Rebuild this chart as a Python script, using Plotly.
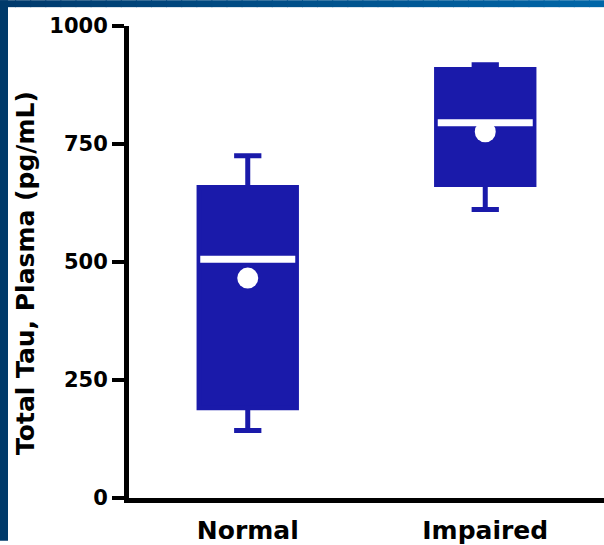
import plotly.graph_objects as go

# ---- data ----
categories = ["Normal", "Impaired"]
lower_whisker = [143, 611]
q1 = [191, 664]
median = [506, 795]
q3 = [658, 908]
upper_whisker = [725, 918]
mean = [466, 776]
y_ticks = [0, 250, 500, 750, 1000]
y_title = "Total Tau, Plasma (pg/mL)"

# ---- style ----
BOX_COLOR = "#1a1aaa"
FONT = "DejaVu Sans"
BOX_W = 0.41
MED_HALF = 0.2
W, H = 604, 545
ML, MR, MT, MB = 129, 0, 26, 43

pos = list(range(len(categories)))

fig = go.Figure()
fig.add_trace(go.Box(
    x=pos, q1=q1, median=median, q3=q3,
    lowerfence=lower_whisker, upperfence=upper_whisker,
    width=BOX_W, whiskerwidth=0.28,
    fillcolor=BOX_COLOR, line=dict(color=BOX_COLOR, width=5),
    boxpoints=False, hoverinfo="skip", showlegend=False,
))

# white median lines
mx, my = [], []
for p, m in zip(pos, median):
    mx += [p - MED_HALF, p + MED_HALF, None]
    my += [m, m, None]
fig.add_trace(go.Scatter(x=mx, y=my, mode="lines",
                         line=dict(color="white", width=7),
                         hoverinfo="skip", showlegend=False))

# white mean dots
fig.add_trace(go.Scatter(x=pos, y=mean, mode="markers",
                         marker=dict(color="white", size=21, line=dict(width=0)),
                         hoverinfo="skip", showlegend=False))

# ---- decorative blue frame (outside plot area) ----
pw = W - ML - MR
ph = H - MT - MB
def px_x(v):
    return (v - ML) / pw
def px_y(v):
    return (H - MB - v) / ph

shapes = []
n = 40
c0 = (0, 58, 108)
c1 = (0, 102, 168)
for i in range(n):
    t = i / (n - 1)
    col = tuple(round(a + (b - a) * t) for a, b in zip(c0, c1))
    shapes.append(dict(type="rect", xref="paper", yref="paper",
                       x0=px_x(W * i / n), x1=px_x(W * (i + 1) / n + 1),
                       y0=px_y(7), y1=px_y(0),
                       fillcolor="rgb(%d,%d,%d)" % col, line=dict(width=0),
                       layer="below"))
shapes.append(dict(type="rect", xref="paper", yref="paper",
                   x0=px_x(0), x1=px_x(8), y0=px_y(H), y1=px_y(0),
                   fillcolor="rgb(0,58,106)", line=dict(width=0), layer="below"))

fig.update_layout(
    width=W, height=H,
    margin=dict(l=ML, r=MR, t=MT, b=MB),
    paper_bgcolor="white", plot_bgcolor="white",
    shapes=shapes,
    showlegend=False,
    annotations=[dict(
        text=y_title, xref="paper", yref="paper",
        x=px_x(26), y=px_y(275), xanchor="center", yanchor="middle",
        textangle=-90, showarrow=False,
        font=dict(family=FONT, size=25, color="black", weight="bold"),
    )],
    xaxis=dict(
        range=[-0.5, 1.5], tickmode="array", tickvals=pos, ticktext=categories,
        showline=True, linecolor="black", linewidth=5,
        ticks="", showgrid=False, zeroline=False,
        tickfont=dict(family=FONT, size=25, color="black", weight="bold"),
        ticklabelstandoff=6, fixedrange=True,
    ),
    yaxis=dict(
        range=[0, 1000], tickmode="array", tickvals=y_ticks,
        ticktext=[str(v) for v in y_ticks],
        showline=True, linecolor="black", linewidth=5,
        ticks="outside", ticklen=12, tickwidth=4, tickcolor="black",
        showgrid=False, zeroline=False,
        tickfont=dict(family=FONT, size=21, color="black", weight="bold"),
        fixedrange=True,
    ),
)

fig.write_html("out.html", config={"displayModeBar": False},
               post_script="document.body.style.margin='0';document.body.style.overflow='hidden';")
